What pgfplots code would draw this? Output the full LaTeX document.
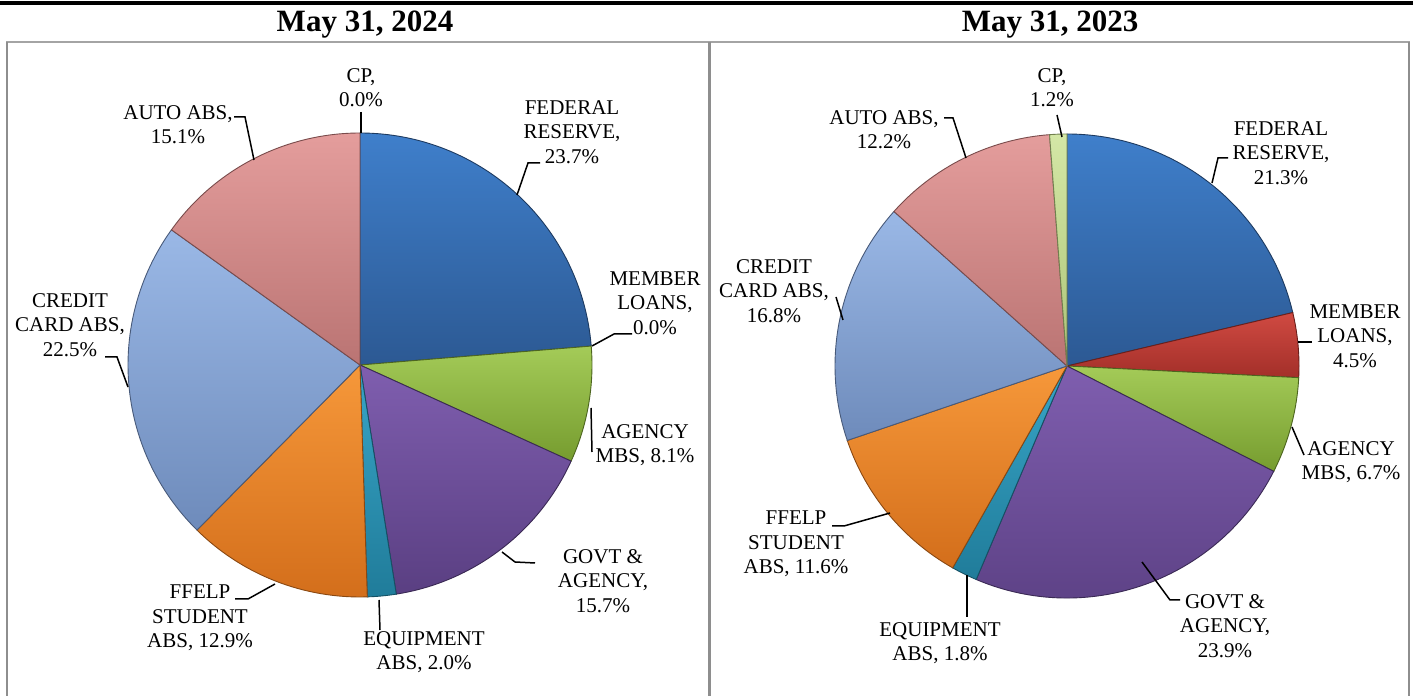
\documentclass[border=0pt]{standalone}
\usepackage{pgfplots}
\pgfplotsset{compat=1.18}
\usepackage{pgfplotstable}
\usepackage{fontspec}
\setmainfont{Liberation Serif}

% slice colours: l = light (top), d = dark (bottom)
\definecolor{c0l}{HTML}{3F7FCB}\definecolor{c0d}{HTML}{2C5993}% Federal Reserve
\definecolor{c1l}{HTML}{D04A42}\definecolor{c1d}{HTML}{A32F29}% Member Loans
\definecolor{c2l}{HTML}{A4CB58}\definecolor{c2d}{HTML}{769C2F}% Agency MBS
\definecolor{c3l}{HTML}{7F5EAF}\definecolor{c3d}{HTML}{5A3F82}% Govt & Agency
\definecolor{c4l}{HTML}{38A5C7}\definecolor{c4d}{HTML}{207C9A}% Equipment ABS
\definecolor{c5l}{HTML}{F6983A}\definecolor{c5d}{HTML}{D36E1B}% FFELP
\definecolor{c6l}{HTML}{9AB8E6}\definecolor{c6d}{HTML}{6E8BBB}% Credit Card ABS
\definecolor{c7l}{HTML}{E49D9C}\definecolor{c7d}{HTML}{BA7473}% Auto ABS
\definecolor{c8l}{HTML}{D4E7A6}\definecolor{c8d}{HTML}{ACC478}% CP
\definecolor{framegray}{HTML}{8E8E8E}

\pgfplotstableread{
name value
FederalReserve 23.7
MemberLoans 0.0
AgencyMBS 8.1
GovtAgency 15.7
EquipmentABS 2.0
FFELPStudentABS 12.9
CreditCardABS 22.5
AutoABS 15.1
CP 0.0
}\pieA

\pgfplotstableread{
name value
FederalReserve 21.3
MemberLoans 4.5
AgencyMBS 6.7
GovtAgency 23.9
EquipmentABS 1.8
FFELPStudentABS 11.6
CreditCardABS 16.8
AutoABS 12.2
CP 1.2
}\pieB

\newcommand\drawpie[1]{%
  \gdef\cum{0}%
  \pgfplotstablegetrowsof{#1}%
  \pgfmathtruncatemacro\lastrow{\pgfplotsretval-1}%
  \pgfplotsforeachungrouped \i in {0,...,\lastrow}{%
    \pgfplotstablegetelem{\i}{value}\of{#1}%
    \let\val\pgfplotsretval
    \pgfmathsetmacro\aS{90-3.6*\cum}%
    \pgfmathsetmacro\aE{90-3.6*(\cum+\val)}%
    \pgfmathsetmacro\cx{cos(\aS)}%
    \pgfmathsetmacro\cy{sin(\aS)}%
    \ifdim\val pt>0pt
      \edef\temp{\noexpand\addplot[draw=c\i d!65!black, line width=0.45pt, top color=c\i l, bottom color=c\i d] coordinates {(0,0) (\cx,\cy)} arc[start angle=\aS, end angle=\aE, radius=116pt] -- cycle;}%
      \temp
    \fi
    \pgfmathsetmacro\newcum{\cum+\val}%
    \xdef\cum{\newcum}%
  }%
}

\tikzset{lab/.style={align=center, font=\fontsize{10.5}{12.2}\selectfont, inner sep=0pt, text=black},
         lead/.style={line width=0.75pt, black}}

\begin{document}
\begin{tikzpicture}
\useasboundingbox (0pt,0pt) rectangle (706.5pt,348pt);

% left pie
\begin{axis}[at={(180pt,165.5pt)}, anchor=center, x=116pt, y=116pt,
  xmin=-1.2, xmax=1.2, ymin=-1.2, ymax=1.2, hide axis, clip=false]
\drawpie{\pieA}
\end{axis}

% right pie
\begin{axis}[at={(533.5pt,165pt)}, anchor=center, x=116pt, y=116pt,
  xmin=-1.2, xmax=1.2, ymin=-1.2, ymax=1.2, hide axis, clip=false]
\drawpie{\pieB}
\end{axis}

\begin{scope}[x=0.5pt, y=0.5pt]
% frames
\fill[black] (0,691) rectangle (1413,695);
\draw[framegray!80, line width=0.6pt] (6,654) -- (1410,654);
\draw[framegray, line width=1pt] (7,654) -- (7,0);
\draw[framegray, line width=1.5pt] (709,654) -- (709,0);
\draw[framegray, line width=1pt] (1409,654) -- (1409,0);
% titles
\node[font=\fontsize{15.5}{18}\selectfont\bfseries] at (365,671) {May 31, 2024};
\node[font=\fontsize{15.5}{18}\selectfont\bfseries] at (1050,671) {May 31, 2023};

% left labels
\node[lab] at (361,608) {CP,\\0.0\%};
\node[lab] at (572,564) {FEDERAL\\RESERVE,\\23.7\%};
\node[lab] at (655,393) {MEMBER\\LOANS,\\0.0\%};
\node[lab] at (645,251) {AGENCY\\MBS, 8.1\%};
\node[lab] at (603,115) {GOVT \&\\AGENCY,\\15.7\%};
\node[lab] at (424,44) {EQUIPMENT\\ABS, 2.0\%};
\node[lab] at (200,78) {FFELP\\STUDENT\\ABS, 12.9\%};
\node[lab] at (70,371) {CREDIT\\CARD ABS,\\22.5\%};
\node[lab] at (178,571) {AUTO ABS,\\15.1\%};
% left leaders
\draw[lead] (361,584) -- (361,563);
\draw[lead] (234,579) -- (245,579) -- (254,536);
\draw[lead] (540,533) -- (528,533) -- (517,501);
\draw[lead] (632,362) -- (614,362) -- (592,350);
\draw[lead] (591,288) -- (592,244);
\draw[lead] (502,144) -- (515,134) -- (535,133);
\draw[lead] (379,96) -- (380,66);
\draw[lead] (235,97) -- (248,97) -- (275,112);
\draw[lead] (105,339) -- (117,339) -- (128,309);

% right labels
\node[lab] at (1052,608) {CP,\\1.2\%};
\node[lab] at (1281,543) {FEDERAL\\RESERVE,\\21.3\%};
\node[lab] at (1355,360) {MEMBER\\LOANS,\\4.5\%};
\node[lab] at (1351,234) {AGENCY\\MBS, 6.7\%};
\node[lab] at (1225,70) {GOVT \&\\AGENCY,\\23.9\%};
\node[lab] at (940,53) {EQUIPMENT\\ABS, 1.8\%};
\node[lab] at (796,152) {FFELP\\STUDENT\\ABS, 11.6\%};
\node[lab] at (774,405) {CREDIT\\CARD ABS,\\16.8\%};
\node[lab] at (884,566) {AUTO ABS,\\12.2\%};
% right leaders
\draw[lead] (1057,581) -- (1062,559);
\draw[lead] (944,578) -- (953,578) -- (966,538);
\draw[lead] (1228,538) -- (1218,538) -- (1212,513);
\draw[lead] (1298,354) -- (1312,354);
\draw[lead] (1292,269) -- (1304,241);
\draw[lead] (1142,134) -- (1170,96) -- (1180,96);
\draw[lead] (967,121) -- (967,79);
\draw[lead] (832,170) -- (844,170) -- (890,183);
\draw[lead] (836,399) -- (843,376);
\end{scope}
\end{tikzpicture}
\end{document}
